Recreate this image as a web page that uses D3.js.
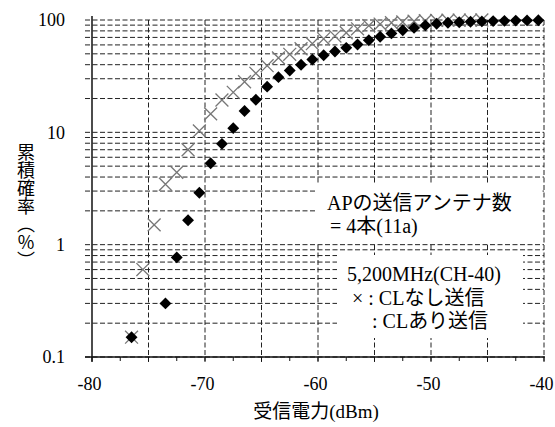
<!DOCTYPE html>
<html><head><meta charset="utf-8">
<script src="https://cdn.jsdelivr.net/npm/d3@7"></script>
<style>html,body{margin:0;padding:0;background:#fff;}svg{display:block;}</style>
</head><body>
<svg id="c" width="555" height="427"></svg>
<script>
// ---- data ----
const xNone = [-76.5,-75.5,-74.5,-73.5,-72.5,-71.5,-70.5,-69.5,-68.5,-67.5,-66.5,-65.5,-64.5,-63.5,-62.5,-61.5,-60.5,-59.5,-58.5,-57.5,-56.5,-55.5,-54.5,-53.5,-52.5,-51.5,-50.5,-49.5,-48.5,-47.5,-46.5,-45.5];
const pNone = [0.15,0.6,1.5,3.45,4.4,7.0,10.3,14.6,19.4,22.7,28.2,33.5,39.2,46,49.5,55.5,61.5,68,72,77,83.5,89,92,94.5,96,97.5,98.5,99.2,99.6,99.8,99.9,100];
const xWith = [-76.5,-73.5,-72.5,-71.5,-70.5,-69.5,-68.5,-67.5,-66.5,-65.5,-64.5,-63.5,-62.5,-61.5,-60.5,-59.5,-58.5,-57.5,-56.5,-55.5,-54.5,-53.5,-52.5,-51.5,-50.5,-49.5,-48.5,-47.5,-46.5,-45.5,-44.5,-43.5,-42.5,-41.5,-40.5];
const pWith = [0.15,0.30,0.77,1.65,2.9,5.3,7.9,10.9,15.5,19.5,25.5,31,35.5,40,44.5,48.5,52.5,56.5,60.5,66,71,76,81,85,89.5,92.5,94.5,95.5,96.5,97.2,97.8,98.3,98.8,99.2,99.5];
const xTicks = [-80,-70,-60,-50,-40];
const xTickLabels = ["-80","-70","-60","-50","-40"];
const yTicks = [0.1,1,10,100];
const yTickLabels = ["0.1","1","10","100"];
const yTitle = "累積確率（%）";
const xTitle = "受信電力(dBm)";
const box1Lines = ["APの送信アンテナ数", "= 4本(11a)"];
const box2Lines = ["5,200MHz(CH-40)", "× : CLなし送信", ": CLあり送信"];

// ---- layout ----
const svg = d3.select("#c");
const L = 92, R = 544, T = 20, B = 357;
const x = d3.scaleLinear().domain([-80,-40]).range([L,R]);
const y = d3.scaleLog().domain([0.1,100]).range([B,T]);
const serif = "'Liberation Serif',serif";
const gothic = "'Noto Sans CJK JP',sans-serif";

// mixed-script text: CJK in gothic, Latin in serif
function mixed(sel, str) {
  const re = /([\u3000-\u30ff\u3400-\u9fff\uff01-\uff60]+)/;
  str.split(re).filter(s => s.length).forEach(s => {
    const m = s.match(re);
    const cjk = m && m[0] === s;
    sel.append("tspan").attr("font-family", cjk ? gothic : serif).text(s);
  });
  return sel;
}

const grid = svg.append("g").attr("stroke","#222").attr("stroke-width",1).attr("stroke-dasharray","5,2.5").attr("fill","none");
const yGridVals = y.ticks();
grid.selectAll("line.h").data(yGridVals).join("line")
  .attr("x1",L-7).attr("x2",R).attr("y1",d=>y(d)).attr("y2",d=>y(d));
const xGridVals = d3.range(-75,-39,5);
grid.selectAll("line.v").data(xGridVals).join("line")
  .attr("x1",d=>x(d)).attr("x2",d=>x(d)).attr("y1",T).attr("y2",B+5);

// axes
const ax = svg.append("g").attr("stroke","#111").attr("fill","none");
ax.append("line").attr("x1",L).attr("x2",L).attr("y1",T-4).attr("y2",B+5).attr("stroke-width",1.5);
ax.append("line").attr("x1",L-7).attr("x2",R+1).attr("y1",B).attr("y2",B).attr("stroke-width",1.5);
ax.selectAll("line.mt").data(d3.range(-80,-39,2.5)).join("line")
  .attr("x1",d=>x(d)).attr("x2",d=>x(d)).attr("y1",B).attr("y2",B+4).attr("stroke-width",1);

const yAxis = d3.axisLeft(y).tickValues(yTicks).tickSize(0).tickPadding(27)
  .tickFormat((d,i)=>yTickLabels[i]);
const gy = svg.append("g").attr("transform",`translate(${L},0)`).call(yAxis)
  .attr("font-family",serif).attr("font-size",18);
gy.select(".domain").remove();
gy.selectAll("text").style("font-family",serif).attr("fill","#000");

const xAxis = d3.axisBottom(x).tickValues(xTicks).tickSize(0).tickPadding(20)
  .tickFormat((d,i)=>xTickLabels[i]);
const gx = svg.append("g").attr("transform",`translate(-3,${B})`).call(xAxis)
  .attr("font-family",serif).attr("font-size",18);
gx.select(".domain").remove();
gx.selectAll("text").style("font-family",serif).attr("fill","#000");

// markers
const cross = d3.symbol().type(d3.symbolX).size(110);
svg.append("g").selectAll("path").data(xNone.map((v,i)=>[v,pNone[i]])).join("path")
  .attr("d",cross).attr("transform",d=>`translate(${x(d[0])},${y(d[1])})`)
  .attr("fill","none").attr("stroke","#777").attr("stroke-width",1.3);
const diamond = d3.symbol().type(d3.symbolDiamond2).size(90);
svg.append("g").selectAll("path").data(xWith.map((v,i)=>[v,pWith[i]])).join("path")
  .attr("d",diamond).attr("transform",d=>`translate(${x(d[0])},${y(d[1])})`)
  .attr("fill","#000");

// annotation boxes
svg.append("rect").attr("x",315).attr("y",185).attr("width",226).attr("height",58).attr("fill","#fff");
svg.append("rect").attr("x",337).attr("y",255).attr("width",186).attr("height",83).attr("fill","#fff");
const t1 = svg.append("g").attr("font-size",20).attr("fill","#000");
mixed(t1.append("text").attr("x",327).attr("y",210), box1Lines[0]);
mixed(t1.append("text").attr("x",330).attr("y",233), box1Lines[1]);
const t2 = svg.append("g").attr("font-size",20).attr("fill","#000");
mixed(t2.append("text").attr("x",347).attr("y",281), box2Lines[0]);
mixed(t2.append("text").attr("x",352).attr("y",305), box2Lines[1]);
mixed(t2.append("text").attr("x",372).attr("y",328), box2Lines[2]);

// axis titles
mixed(svg.append("text").attr("x",316).attr("y",418).attr("text-anchor","middle")
  .attr("font-size",19), xTitle);
svg.append("text").attr("x",26).attr("y",143)
  .attr("font-family",gothic).attr("font-size",18)
  .style("writing-mode","vertical-rl").style("text-orientation","upright")
  .text(yTitle);
</script>
</body></html>
